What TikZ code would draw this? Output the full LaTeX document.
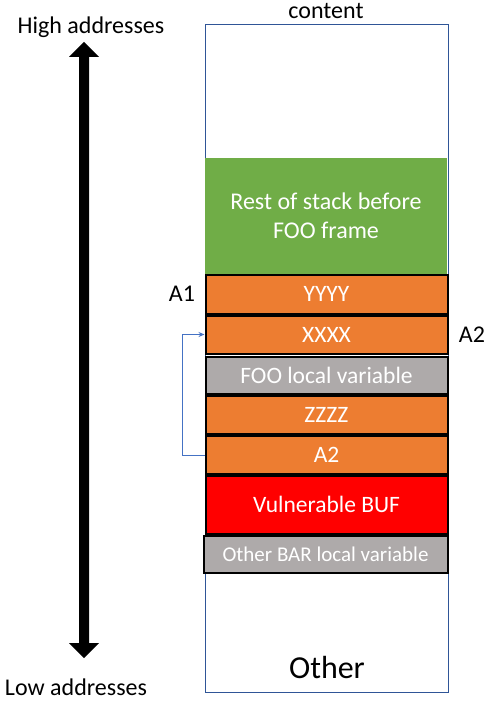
\documentclass[tikz,border=0pt]{standalone}
\usepackage{fontspec}
\setmainfont{Carlito}
\usetikzlibrary{arrows.meta}
\definecolor{boxblue}{RGB}{47,85,151}
\definecolor{arrblue}{RGB}{68,114,196}
\definecolor{stkgreen}{RGB}{112,173,71}
\definecolor{stkorange}{RGB}{237,125,49}
\definecolor{stkgray}{RGB}{174,170,170}
\begin{document}
\begin{tikzpicture}[x=1pt,y=-1pt,
  blk/.style={draw=black,line width=2pt,text=white,font=\fontsize{23.5}{26}\selectfont,inner sep=0pt},
  lbl/.style={font=\fontsize{24}{26}\selectfont,inner sep=0pt}]
\useasboundingbox (0,0) rectangle (491,703);
% outer box
\node[draw=boxblue,line width=0.8pt,minimum width=243pt,minimum height=668pt,inner sep=0pt] (outer) at (326.5,358) {};
\node[lbl] (content) at (326,11) {content};
\node[font=\fontsize{32}{34}\selectfont,inner sep=0pt] (other) at (327,667) {Other};
% green
\node[fill=stkgreen,text=white,font=\fontsize{24}{29}\selectfont,align=center,minimum width=242pt,minimum height=116pt,inner sep=0pt] (rest) at (326,216) {Rest of stack before\\FOO frame};
\node[blk,fill=stkorange,minimum width=242pt,minimum height=39pt] (yyyy) at (326.5,294) {YYYY};
\node[blk,fill=stkorange,minimum width=242pt,minimum height=38pt] (xxxx) at (326.5,334.5) {XXXX};
\node[blk,fill=stkgray,minimum width=242pt,minimum height=37pt] (foo) at (326.5,375) {FOO local variable};
\node[blk,fill=stkorange,minimum width=242pt,minimum height=38pt] (zzzz) at (326.5,414.5) {ZZZZ};
\node[blk,fill=stkorange,minimum width=242pt,minimum height=38pt] (a2) at (326.5,455) {A2};
\node[blk,fill=red,minimum width=242pt,minimum height=58pt] (buf) at (326.5,504.5) {Vulnerable BUF};
\node[blk,fill=stkgray,font=\fontsize{21}{23}\selectfont,minimum width=244pt,minimum height=37pt] (bar) at (325.5,554) {Other BAR local variable};
% labels
\node[lbl] (la1) at (182,294) {A1};
\node[lbl] (la2) at (472,335) {A2};
\node[lbl] (high) at (91,27) {High addresses};
\node[lbl] (low) at (76,687) {Low addresses};
% blue arrow
\draw[arrblue,line width=1pt,-{Stealth[length=6pt,width=5pt]}] (a2.west) -- ++(-22,0) |- (xxxx.west);
% big double arrow
\coordinate (top) at (84,42);
\coordinate (bot) at (84,658);
\fill[black] (top) -- (99,57) -- (89,57) -- (89,643) -- (99,643) -- (bot) -- (69,643) -- (79,643) -- (79,57) -- (69,57) -- cycle;
\end{tikzpicture}
\end{document}
